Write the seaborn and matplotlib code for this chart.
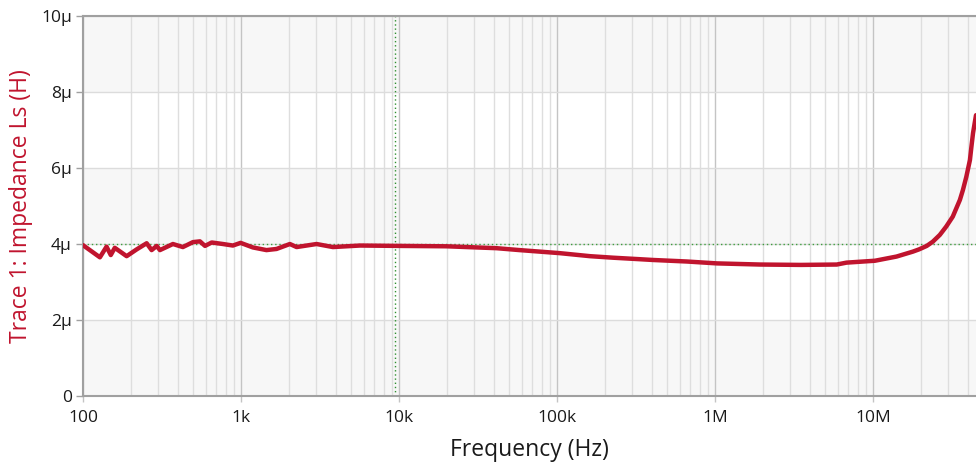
import matplotlib
matplotlib.use("Agg")
import matplotlib.pyplot as plt
from matplotlib.ticker import FixedLocator, LogLocator, NullFormatter
import numpy as np
import pandas as pd
import seaborn as sns

# Measured series inductance Ls (in µH) versus frequency (Hz)
freq_hz = [100, 128, 141, 150, 159, 189, 219, 253, 272, 293, 307, 371, 429, 497,
           550, 592, 653, 769, 889, 995, 1190, 1450, 1680, 2040, 2250, 3010, 3820,
           5670, 10100, 20000, 31000, 41500, 58000, 104000, 162000, 226000, 335000,
           405000, 662000, 1030000, 1930000, 3500000, 5900000, 6800000, 10300000,
           14100000, 17900000, 19600000, 21900000, 23900000, 26500000, 29100000,
           32000000, 35500000, 37100000, 39000000, 41100000, 42000000, 43000000,
           44900000]
ls_uh = [3.97, 3.65, 3.93, 3.71, 3.90, 3.68, 3.86, 4.02, 3.84, 3.95, 3.84, 4.00,
         3.92, 4.05, 4.07, 3.95, 4.04, 4.00, 3.96, 4.03, 3.91, 3.84, 3.87, 4.00,
         3.92, 4.00, 3.92, 3.96, 3.95, 3.94, 3.91, 3.89, 3.84, 3.76, 3.68, 3.64,
         3.60, 3.58, 3.54, 3.49, 3.46, 3.45, 3.46, 3.51, 3.56, 3.67, 3.80, 3.86,
         3.95, 4.06, 4.24, 4.46, 4.72, 5.16, 5.42, 5.77, 6.21, 6.56, 6.92, 7.39]

x_ticks = [1e2, 1e3, 1e4, 1e5, 1e6, 1e7]
x_tick_labels = ["100", "1k", "10k", "100k", "1M", "10M"]
y_ticks = [0, 2, 4, 6, 8, 10]
y_tick_labels = ["0", "2µ", "4µ", "6µ", "8µ", "10µ"]

ref_level_uh = 4.0
cursor_hz = 9400

df = pd.DataFrame({"Frequency (Hz)": freq_hz, "Ls (µH)": ls_uh})

sns.set_theme(style="white")
plt.rcParams["font.family"] = ["Open Sans", "DejaVu Sans"]

fig = plt.figure(figsize=(9.76, 4.68), dpi=100)
ax = fig.add_axes([0.085, 0.1538, 0.915, 0.812])

ax.set_xscale("log")
ax.set_xlim(100, 4.49e7)
ax.set_ylim(0, 10)

# alternating horizontal bands
for lo in (0, 4, 8):
    ax.axhspan(lo, lo + 2, color="#f7f7f7", zorder=0, lw=0)

# grid
ax.xaxis.set_major_locator(FixedLocator(x_ticks))
ax.xaxis.set_minor_locator(LogLocator(base=10, subs=np.arange(2, 10)))
ax.xaxis.set_minor_formatter(NullFormatter())
ax.grid(which="minor", axis="x", color="#dedede", lw=1.0, zorder=1)
ax.grid(which="major", axis="x", color="#c4c4c4", lw=1.0, zorder=1)
ax.grid(which="major", axis="y", color="#dcdcdc", lw=1.0, zorder=1)
ax.set_axisbelow(True)

# reference markers
ax.axhline(ref_level_uh, color="#3f9e3f", lw=1.0, ls=(0, (1, 2)), zorder=2)
ax.axvline(cursor_hz, color="#2f8f2f", lw=1.0, ls=(0, (1, 2)), zorder=2)

sns.lineplot(data=df, x="Frequency (Hz)", y="Ls (µH)", ax=ax, color="#c0142e",
             lw=3.2, estimator=None, zorder=3)

ax.set_xticks(x_ticks)
ax.set_xticklabels(x_tick_labels)
ax.yaxis.set_major_locator(FixedLocator(y_ticks))
ax.set_yticklabels(y_tick_labels)

ax.tick_params(axis="both", which="major", labelsize=12.5, labelcolor="#1a1a1a")
ax.tick_params(axis="y", which="major", length=5, width=1, color="#a0a0a0",
               left=True, pad=3)
ax.tick_params(axis="x", which="major", length=4, width=1, color="#c4c4c4",
               bottom=True, pad=6)
ax.tick_params(axis="x", which="minor", length=0)

for side in ("left", "bottom", "top"):
    ax.spines[side].set_visible(True)
    ax.spines[side].set_color("#a0a0a0")
    ax.spines[side].set_linewidth(1.5)
ax.spines["right"].set_visible(False)

ax.set_xlabel("Frequency (Hz)", fontsize=16.5, color="#1a1a1a", labelpad=9)
ax.set_ylabel("Trace 1: Impedance Ls (H)", fontsize=16.5, color="#c0142e", labelpad=6)

fig.savefig("out.png", dpi=100)
